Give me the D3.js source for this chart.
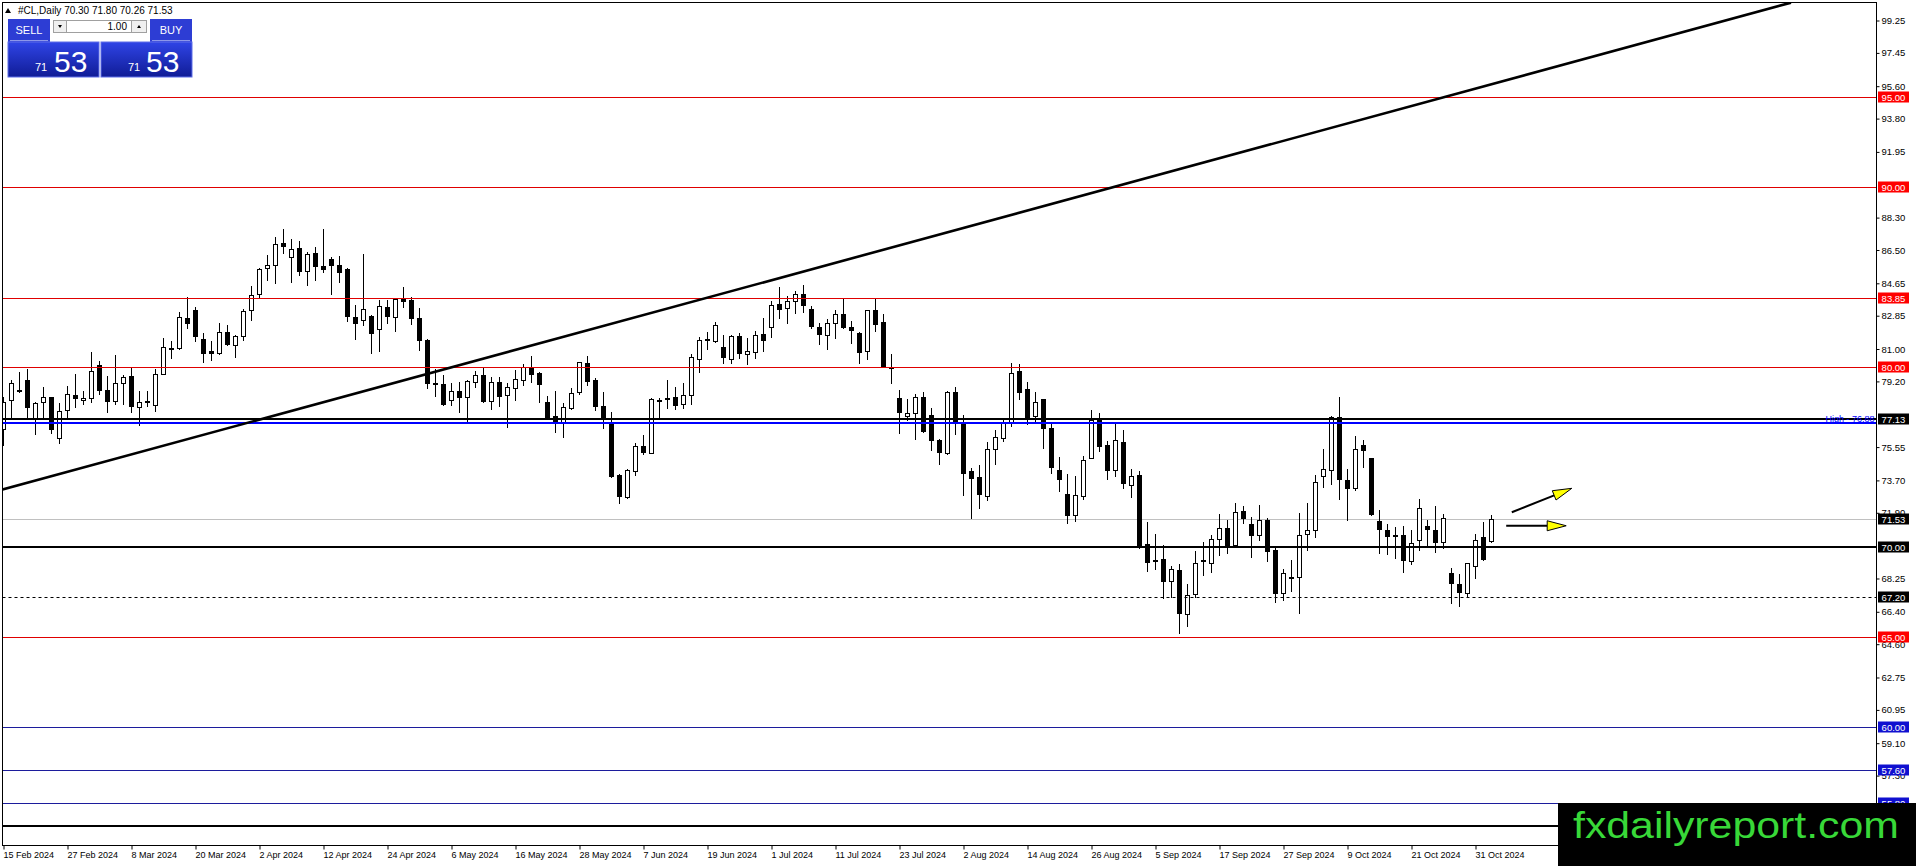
<!DOCTYPE html>
<html>
<head>
<meta charset="utf-8">
<script src="https://cdn.jsdelivr.net/npm/d3@7"></script>
<style>
  body { margin: 0; background: #fff; overflow: hidden; }
  text { font-family: "Liberation Sans", Arial, sans-serif; }
</style>
</head>
<body>
<svg id="chart" width="1916" height="866"></svg>
<script>
// ---- data ----------------------------------------------------------------
const symbolInfo = '#CL,Daily 70.30 71.80 70.26 71.53';

const dateLabels = ['15 Feb 2024', '27 Feb 2024', '8 Mar 2024', '20 Mar 2024', '2 Apr 2024',
    '12 Apr 2024', '24 Apr 2024', '6 May 2024', '16 May 2024', '28 May 2024', '7 Jun 2024',
    '19 Jun 2024', '1 Jul 2024', '11 Jul 2024', '23 Jul 2024', '2 Aug 2024', '14 Aug 2024',
    '26 Aug 2024', '5 Sep 2024', '17 Sep 2024', '27 Sep 2024', '9 Oct 2024', '21 Oct 2024',
    '31 Oct 2024'];

const opens = [
    76.56, 78.13, 78.69, 79.28, 77.15, 78.04, 78.33, 76.07, 77.61, 78.44,
    78.17, 78.26, 80.11, 78.72, 78.11, 79.13, 79.50, 77.76, 78.07, 77.89,
    79.61, 81.06, 81.09, 82.74, 83.17, 81.56, 80.89, 80.76, 81.94, 81.22,
    81.72, 83.17, 84.06, 85.48, 85.67, 86.91, 86.13, 86.63, 85.33, 86.35,
    85.61, 85.98, 85.67, 85.43, 82.80, 82.61, 82.83, 82.11, 83.35, 82.76,
    83.78, 83.72, 82.70, 81.50, 79.13, 79.06, 78.17, 78.67, 78.31, 79.15,
    79.56, 78.13, 79.19, 78.44, 78.85, 79.28, 79.98, 79.69, 78.07, 77.30,
    76.96, 77.70, 78.57, 80.20, 79.30, 77.83, 76.96, 74.00, 72.80, 74.22,
    75.61, 75.24, 78.11, 78.28, 78.35, 77.94, 78.44, 80.44, 81.52, 81.44,
    81.09, 80.44, 81.72, 80.72, 80.85, 81.81, 82.18, 83.48, 83.26, 83.66,
    84.07, 83.20, 82.24, 81.81, 82.42, 82.92, 82.22, 81.87, 80.89, 83.15,
    82.50, 80.02, 78.26, 77.31, 77.46, 78.35, 77.31, 75.92, 75.24, 78.61,
    76.94, 74.22, 73.89, 72.79, 75.42, 76.05, 76.94, 79.78, 78.76, 77.31,
    78.20, 76.59, 74.28, 72.95, 71.79, 72.82, 74.97, 77.08, 75.68, 74.28,
    75.81, 73.44, 74.02, 70.15, 69.29, 69.31, 68.08, 68.70, 66.30, 67.39,
    69.25, 69.12, 70.46, 71.08, 70.07, 72.01, 71.28, 70.68, 71.50, 69.85,
    67.45, 68.34, 68.36, 70.71, 70.95, 73.91, 74.29, 77.24, 73.72, 73.27,
    75.66, 74.93, 71.44, 70.95, 70.68, 70.68, 69.22, 70.35, 71.17, 70.95,
    70.27, 68.54, 67.94, 67.45, 68.94, 70.53, 70.30];

const highs = [
    78.35, 79.28, 79.74, 79.89, 78.07, 78.91, 78.35, 78.02, 78.96, 79.63,
    78.69, 80.85, 80.33, 79.50, 80.67, 79.56, 79.96, 78.69, 78.69, 79.89,
    81.63, 81.44, 83.07, 83.91, 83.35, 81.91, 81.44, 82.43, 82.33, 81.78,
    83.22, 84.50, 85.52, 86.22, 87.24, 87.67, 87.11, 87.02, 86.41, 86.65,
    87.67, 86.13, 86.17, 85.48, 83.44, 86.28, 82.87, 83.72, 83.72, 83.81,
    84.46, 83.91, 83.26, 81.56, 79.87, 79.56, 79.09, 79.19, 79.26, 79.78,
    79.96, 79.46, 79.46, 79.09, 79.83, 80.15, 80.61, 79.74, 78.41, 78.67,
    77.98, 78.81, 80.30, 80.61, 79.41, 78.63, 77.48, 74.04, 74.31, 75.76,
    76.22, 78.30, 78.30, 79.28, 78.91, 79.09, 80.70, 81.69, 81.96, 82.52,
    81.78, 81.78, 81.87, 81.59, 82.02, 82.70, 83.66, 84.44, 83.94, 84.22,
    84.54, 83.39, 82.46, 82.68, 83.15, 83.76, 82.55, 81.96, 83.18, 83.85,
    82.92, 80.70, 78.70, 78.24, 78.48, 78.61, 77.74, 75.98, 78.67, 78.89,
    77.31, 74.41, 74.55, 75.83, 76.50, 77.15, 80.20, 80.15, 79.17, 78.63,
    78.24, 76.91, 75.01, 74.07, 73.94, 75.07, 77.59, 77.44, 75.91, 76.84,
    76.52, 74.32, 74.20, 71.38, 70.73, 70.09, 68.94, 69.07, 67.94, 69.76,
    70.27, 70.64, 71.82, 71.50, 72.46, 72.28, 71.68, 72.32, 71.62, 69.95,
    68.76, 69.27, 71.90, 72.45, 74.01, 75.46, 77.30, 78.34, 74.36, 76.19,
    75.97, 74.96, 72.04, 71.26, 71.09, 71.19, 70.95, 72.65, 71.50, 72.26,
    71.82, 68.81, 68.49, 69.12, 70.73, 71.41, 71.80];

const lows = [
    75.67, 77.15, 78.60, 77.24, 76.26, 77.24, 76.31, 75.80, 77.24, 77.76,
    77.93, 78.04, 78.48, 77.48, 77.93, 77.93, 77.48, 76.78, 77.83, 77.56,
    79.61, 80.48, 80.98, 82.19, 81.46, 80.26, 80.39, 80.72, 81.22, 80.57,
    81.50, 82.61, 83.91, 84.83, 84.65, 86.31, 84.74, 85.11, 84.56, 84.83,
    85.30, 84.06, 84.74, 82.57, 81.56, 82.33, 80.80, 80.89, 82.43, 82.00,
    83.35, 82.37, 80.94, 78.81, 78.41, 77.89, 77.89, 77.48, 76.96, 78.87,
    78.07, 77.67, 77.85, 76.65, 78.17, 79.00, 79.15, 78.07, 77.11, 76.37,
    76.09, 77.67, 78.50, 79.00, 77.61, 76.63, 73.91, 72.43, 72.74, 74.00,
    75.17, 75.20, 77.19, 77.70, 77.67, 77.74, 77.93, 79.70, 80.98, 81.41,
    80.20, 80.20, 80.52, 80.15, 80.48, 80.89, 81.68, 82.74, 82.46, 83.02,
    83.07, 82.15, 81.26, 80.98, 81.63, 82.15, 81.31, 80.24, 80.46, 82.00,
    80.02, 79.13, 76.35, 77.04, 75.98, 76.41, 75.37, 74.59, 75.18, 76.26,
    72.91, 71.63, 72.18, 72.59, 74.59, 75.87, 76.72, 78.20, 76.81, 77.00,
    75.52, 74.13, 73.10, 71.36, 71.42, 72.69, 74.93, 75.31, 73.76, 73.94,
    73.25, 72.79, 69.95, 68.68, 68.76, 67.17, 67.24, 65.24, 65.62, 67.21,
    68.43, 68.63, 69.58, 69.67, 70.04, 71.31, 69.45, 70.40, 69.22, 66.93,
    67.08, 67.54, 66.33, 69.85, 70.53, 73.36, 73.50, 72.65, 71.50, 73.19,
    74.47, 71.77, 69.67, 69.62, 69.40, 68.63, 69.03, 69.85, 70.04, 69.73,
    69.95, 66.88, 66.72, 67.24, 68.27, 69.27, 70.26];

const closes = [
    78.04, 79.09, 78.72, 77.76, 78.02, 78.33, 76.56, 77.56, 78.48, 78.26,
    78.30, 79.78, 78.72, 78.11, 79.13, 79.44, 77.83, 78.04, 78.09, 79.61,
    81.11, 81.02, 82.80, 82.48, 81.74, 80.80, 80.76, 81.93, 81.26, 81.72,
    83.11, 84.00, 85.44, 85.67, 86.83, 86.72, 86.56, 85.33, 86.28, 85.61,
    85.43, 85.67, 85.26, 82.83, 82.46, 83.22, 81.87, 83.39, 82.83, 83.78,
    83.67, 82.70, 81.50, 79.09, 79.06, 77.93, 78.67, 78.31, 79.22, 79.56,
    78.13, 79.19, 78.39, 78.87, 79.33, 79.98, 79.59, 79.09, 77.15, 76.96,
    77.78, 78.54, 80.26, 79.22, 77.83, 77.15, 73.94, 72.83, 74.28, 75.61,
    75.30, 78.22, 78.15, 78.24, 77.89, 78.44, 80.57, 81.50, 81.56, 82.33,
    80.54, 81.72, 80.76, 80.89, 81.78, 81.50, 83.42, 83.20, 83.66, 84.07,
    83.48, 82.24, 81.87, 82.46, 82.92, 82.18, 82.03, 80.79, 83.15, 82.37,
    80.05, 79.98, 77.46, 77.46, 78.35, 76.44, 75.92, 75.24, 78.63, 77.00,
    74.13, 73.85, 72.92, 75.42, 76.11, 76.92, 79.65, 78.63, 77.18, 78.07,
    76.59, 74.41, 73.76, 71.79, 72.88, 74.84, 77.07, 75.66, 74.28, 75.94,
    73.53, 73.94, 70.10, 69.15, 69.25, 68.08, 68.76, 66.30, 67.34, 69.12,
    69.18, 70.46, 71.08, 70.00, 71.92, 71.64, 70.68, 71.50, 69.80, 67.45,
    68.58, 68.27, 70.68, 70.95, 73.63, 74.32, 77.21, 73.78, 73.28, 75.42,
    75.38, 71.81, 71.00, 70.62, 70.60, 69.31, 70.22, 72.14, 71.00, 70.27,
    71.59, 67.99, 67.48, 69.09, 70.40, 69.31, 71.53];

// scale labels that are not hidden under the level tags
const priceTicks = [99.25, 97.45, 95.60, 93.80, 91.95, 88.30, 86.50, 84.65, 82.85,
    81.00, 79.20, 75.55, 73.70, 71.90, 68.25, 66.40, 64.60, 62.75, 60.95,
    59.10, 57.30];

const redLevels = [95.00, 90.00, 83.85, 80.00, 65.00];
const blueLevels = [60.00, 57.60, 55.80];
const blackLevels = [77.13, 70.00, 54.50];
const dashedLevel = 67.20;
const bidPrice = 71.53;
const highLevel = 76.88;

// trend line and the two arrows: [bar index, price]
const trendLine = [[-0.5, 73.14], [223.5, 100.24]];
const arrows = [
    [[187.9, 71.18], [195.4, 71.18]],
    [[188.6, 71.93], [196.1, 73.26]]
];

// ---- layout ----------------------------------------------------------------
const plotLeft = 2.5, plotTop = 2.5, plotRight = 1876.5, plotBottom = 845.5;

const svg = d3.select('#chart');

const x = d3.scaleLinear().domain([0, 186]).range([3, 1491]);
const y = d3.scaleLinear().domain([53.444, 100.389]).range([845, 0]);
const py = (v) => Math.round(y(v)) + 0.5;

svg.append('defs').append('clipPath').attr('id', 'plot')
    .append('rect')
    .attr('x', plotLeft).attr('y', plotTop)
    .attr('width', plotRight - plotLeft).attr('height', plotBottom - plotTop);

const plot = svg.append('g').attr('clip-path', 'url(#plot)');

// bid line sits behind the candles
plot.append('line')
    .attr('x1', plotLeft).attr('x2', plotRight)
    .attr('y1', py(bidPrice)).attr('y2', py(bidPrice))
    .attr('stroke', '#c0c0c0');

//------------------------------------------------------------------------------
// candles
const bars = d3.range(opens.length);

const candle = plot.append('g').selectAll('g')
    .data(bars)
    .join('g');

candle.append('line')
    .attr('x1', (i) => x(i) + 0.5)
    .attr('x2', (i) => x(i) + 0.5)
    .attr('y1', (i) => Math.round(y(highs[i])))
    .attr('y2', (i) => Math.round(y(lows[i])) + 1)
    .attr('stroke', '#000');

candle.append('rect')
    .attr('x', (i) => x(i) - 1.5)
    .attr('y', (i) => Math.round(y(Math.max(opens[i], closes[i]))) + 0.5)
    .attr('width', 4)
    .attr('height', (i) => Math.max(1, Math.round(Math.abs(y(opens[i]) - y(closes[i])))))
    .attr('fill', (i) => closes[i] >= opens[i] ? '#fff' : '#000')
    .attr('stroke', '#000');

//------------------------------------------------------------------------------
// horizontal levels
const hline = (v, color, width, dash) => {
    plot.append('line')
        .attr('x1', plotLeft).attr('x2', plotRight)
        .attr('y1', width > 1 ? Math.round(y(v)) : py(v))
        .attr('y2', width > 1 ? Math.round(y(v)) : py(v))
        .attr('stroke', color)
        .attr('stroke-width', width)
        .attr('stroke-dasharray', dash || null);
};

redLevels.forEach((v) => hline(v, '#e00000', 1));
blueLevels.forEach((v) => hline(v, '#1c1c9c', 1));
hline(highLevel, '#0000ff', 2);
blackLevels.forEach((v) => hline(v, '#000', 2));
hline(dashedLevel, '#000', 1, '3,3');

plot.append('text')
    .attr('x', plotRight - 2)
    .attr('y', Math.round(y(highLevel)) - 1)
    .attr('text-anchor', 'end')
    .attr('font-size', 9)
    .attr('fill', '#0000ff')
    .text('High - ' + highLevel.toFixed(2));

// trend line
plot.append('line')
    .attr('x1', x(trendLine[0][0])).attr('y1', y(trendLine[0][1]))
    .attr('x2', x(trendLine[1][0])).attr('y2', y(trendLine[1][1]))
    .attr('stroke', '#000')
    .attr('stroke-width', 2.6);

// arrows
arrows.forEach(function (a) {
    const x1 = x(a[0][0]), y1 = y(a[0][1]), x2 = x(a[1][0]), y2 = y(a[1][1]);
    const ang = Math.atan2(y2 - y1, x2 - x1);
    const len = 19, half = 5;
    const bx = x2 - len * Math.cos(ang), by = y2 - len * Math.sin(ang);

    plot.append('line')
        .attr('x1', x1).attr('y1', y1)
        .attr('x2', bx).attr('y2', by)
        .attr('stroke', '#000')
        .attr('stroke-width', 2);

    plot.append('path')
        .attr('d', d3.line()([
            [x2, y2],
            [bx + half * Math.sin(ang), by - half * Math.cos(ang)],
            [bx - half * Math.sin(ang), by + half * Math.cos(ang)]
        ]) + 'Z')
        .attr('fill', '#ffff00')
        .attr('stroke', '#000')
        .attr('stroke-width', 1);
});

//------------------------------------------------------------------------------
// frame and axes
svg.append('rect')
    .attr('x', plotLeft).attr('y', plotTop)
    .attr('width', plotRight - plotLeft).attr('height', plotBottom - plotTop)
    .attr('fill', 'none')
    .attr('stroke', '#000');

const yAxis = svg.append('g')
    .attr('transform', `translate(${plotRight},0)`)
    .call(d3.axisRight(y)
        .tickValues(priceTicks)
        .tickSize(3)
        .tickSizeOuter(0)
        .tickFormat(d3.format('.2f')));

yAxis.select('.domain').remove();
yAxis.selectAll('text')
    .attr('x', 5)
    .attr('font-size', 9.5)
    .attr('font-family', '"Liberation Sans", Arial, sans-serif')
    .attr('fill', '#000');

const xAxis = svg.append('g')
    .attr('transform', `translate(0,${plotBottom})`)
    .call(d3.axisBottom(x)
        .tickValues(dateLabels.map((d, i) => i * 8))
        .tickSize(4)
        .tickSizeOuter(0)
        .tickFormat((d, i) => dateLabels[i]));

xAxis.select('.domain').remove();
xAxis.selectAll('.tick line').attr('transform', 'translate(0.5,0)');
xAxis.selectAll('text')
    .attr('text-anchor', 'start')
    .attr('x', 0)
    .attr('y', 6)
    .attr('font-size', 9)
    .attr('font-family', '"Liberation Sans", Arial, sans-serif')
    .attr('fill', '#000');

// price labels of the levels on the right scale
const levelLabels = []
    .concat(redLevels.map((v) => [v, '#ff0000']))
    .concat(blueLevels.map((v) => [v, '#1010d0']))
    .concat(blackLevels.map((v) => [v, '#000']))
    .concat([[dashedLevel, '#000'], [bidPrice, '#000']]);

const tag = svg.append('g').selectAll('g')
    .data(levelLabels)
    .join('g')
    .attr('transform', (d) => `translate(1878,${Math.round(y(d[0]))})`);

tag.append('rect')
    .attr('x', 0).attr('y', -5.5)
    .attr('width', 31).attr('height', 11)
    .attr('fill', (d) => d[1]);

tag.append('text')
    .attr('x', 15.5).attr('y', 3.5)
    .attr('text-anchor', 'middle')
    .attr('font-size', 9.5)
    .attr('fill', '#fff')
    .text((d) => d[0].toFixed(2));

//------------------------------------------------------------------------------
// header and one-click trading panel
svg.append('path')
    .attr('d', 'M5,13 L8,8 L11,13 Z')
    .attr('fill', '#000');

svg.append('text')
    .attr('x', 18).attr('y', 14)
    .attr('font-size', 10)
    .attr('fill', '#000')
    .text(symbolInfo);

const grad = svg.select('defs').append('linearGradient')
    .attr('id', 'panelBlue')
    .attr('x1', 0).attr('x2', 0).attr('y1', 0).attr('y2', 1);
grad.append('stop').attr('offset', 0).attr('stop-color', '#2f44e6');
grad.append('stop').attr('offset', 1).attr('stop-color', '#101c96');

const panel = svg.append('g');

[[8, 'SELL'], [150, 'BUY']].forEach(function (b) {
    panel.append('rect')
        .attr('x', b[0]).attr('y', 19)
        .attr('width', 42).attr('height', 23)
        .attr('fill', '#2d3dd4');
    panel.append('line')
        .attr('x1', b[0] + 2).attr('x2', b[0] + 40)
        .attr('y1', 40.5).attr('y2', 40.5)
        .attr('stroke', '#8d97ea');
    panel.append('text')
        .attr('x', b[0] + 21).attr('y', 34)
        .attr('text-anchor', 'middle')
        .attr('font-size', 11)
        .attr('fill', '#fff')
        .text(b[1]);
});

[[8, 35, 54], [101, 128, 146]].forEach(function (b) {
    panel.append('rect')
        .attr('x', b[0]).attr('y', 42)
        .attr('width', 91).attr('height', 35)
        .attr('fill', 'url(#panelBlue)')
        .attr('stroke', '#5f6fe8');
    panel.append('text')
        .attr('x', b[1]).attr('y', 71)
        .attr('font-size', 11)
        .attr('fill', '#fff')
        .text('71');
    panel.append('text')
        .attr('x', b[2]).attr('y', 72)
        .attr('font-size', 30)
        .attr('fill', '#fff')
        .text('53');
});

panel.append('rect')
    .attr('x', 53.5).attr('y', 20.5).attr('width', 13).attr('height', 12)
    .attr('fill', '#f0f0f0').attr('stroke', '#a0a0a0');
panel.append('path').attr('d', 'M58,25 L62,25 L60,28 Z').attr('fill', '#000');
panel.append('rect')
    .attr('x', 66.5).attr('y', 20.5).attr('width', 65).attr('height', 12)
    .attr('fill', '#fff').attr('stroke', '#a0a0a0');
panel.append('text')
    .attr('x', 127).attr('y', 30)
    .attr('text-anchor', 'end')
    .attr('font-size', 10)
    .attr('fill', '#000')
    .text('1.00');
panel.append('rect')
    .attr('x', 131.5).attr('y', 20.5).attr('width', 15).attr('height', 12)
    .attr('fill', '#f0f0f0').attr('stroke', '#a0a0a0');
panel.append('path').attr('d', 'M137,28 L141,28 L139,25 Z').attr('fill', '#000');

//------------------------------------------------------------------------------
// watermark
svg.append('rect')
    .attr('x', 1558).attr('y', 803)
    .attr('width', 358).attr('height', 63)
    .attr('fill', '#000');

svg.append('text')
    .attr('x', 1573).attr('y', 838)
    .attr('font-size', 36)
    .attr('textLength', 326)
    .attr('lengthAdjust', 'spacingAndGlyphs')
    .attr('fill', '#38d838')
    .text('fxdailyreport.com');
</script>
</body>
</html>
